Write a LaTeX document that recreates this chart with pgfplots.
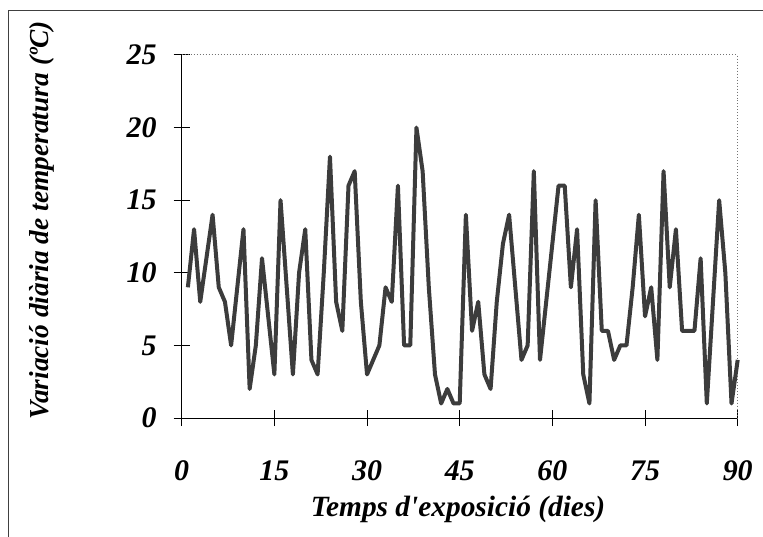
\documentclass[border=0pt]{standalone}
\usepackage{fontspec}
\setmainfont{Liberation Serif}
\usepackage{pgfplots}
\pgfplotsset{compat=1.18}
\definecolor{serie}{RGB}{60,60,60}

\pgfplotstableread{
dia var
1 9
2 13
3 8
4 11
5 14
6 9
7 8
8 5
9 9
10 13
11 2
12 5
13 11
14 7
15 3
16 15
17 9
18 3
19 10
20 13
21 4
22 3
23 10
24 18
25 8
26 6
27 16
28 17
29 8
30 3
31 4
32 5
33 9
34 8
35 16
36 5
37 5
38 20
39 17
40 9
41 3
42 1
43 2
44 1
45 1
46 14
47 6
48 8
49 3
50 2
51 8
52 12
53 14
54 9
55 4
56 5
57 17
58 4
59 8
60 12
61 16
62 16
63 9
64 13
65 3
66 1
67 15
68 6
69 6
70 4
71 5
72 5
73 9
74 14
75 7
76 9
77 4
78 17
79 9
80 13
81 6
82 6
83 6
84 11
85 1
86 8
87 15
88 10
89 1
90 4
}\dades

\newcommand{\lletra}{\fontsize{27.5}{32}\selectfont\bfseries\itshape}
\newcommand{\xifres}{\fontsize{30}{34}\selectfont\bfseries\itshape}
\newcommand{\titolx}{\fontsize{29.5}{34}\selectfont\bfseries\itshape}

\begin{document}
\begin{tikzpicture}
\path[use as bounding box] (0,0) rectangle (763bp,537bp);
% marc exterior del grafic
\draw[line width=1bp, black!75] (8bp,0) -- (8bp,526bp) -- (763bp,526bp);
\begin{axis}[
  at={(181.7bp,119bp)}, anchor=south west,
  scale only axis, width=556bp, height=363bp,
  xmin=0, xmax=90, ymin=0, ymax=25,
  xtick={0,15,...,90}, ytick={0,5,...,25},
  axis lines*=left,
  axis line style={line width=1bp, black},
  tick align=center, major tick length=16bp,
  tick style={line width=1bp, black},
  /pgf/number format/assume math mode=true,
  ticklabel style={font=\xifres},
  xticklabel style={anchor=center, yshift=-45bp},
  yticklabel style={anchor=east, inner sep=0pt, xshift=-17bp},
  xlabel={Temps d\textquotesingle exposició (dies)},
  ylabel={Variació diària de temperatura (ºC)},
  xlabel style={font=\titolx, at={(axis description cs:0.497,-0.252)}, anchor=center},
  ylabel style={font=\lletra, at={(axis description cs:-0.2513,0.545)}, anchor=center},
  clip=false,
]
\draw[black!55, dotted, line width=1bp] (rel axis cs:0,1) -- (rel axis cs:1,1) -- (rel axis cs:1,0);
\addplot[serie, line width=4bp, line join=round, mark=none] table[x=dia, y=var] {\dades};
\end{axis}
\end{tikzpicture}
\end{document}
